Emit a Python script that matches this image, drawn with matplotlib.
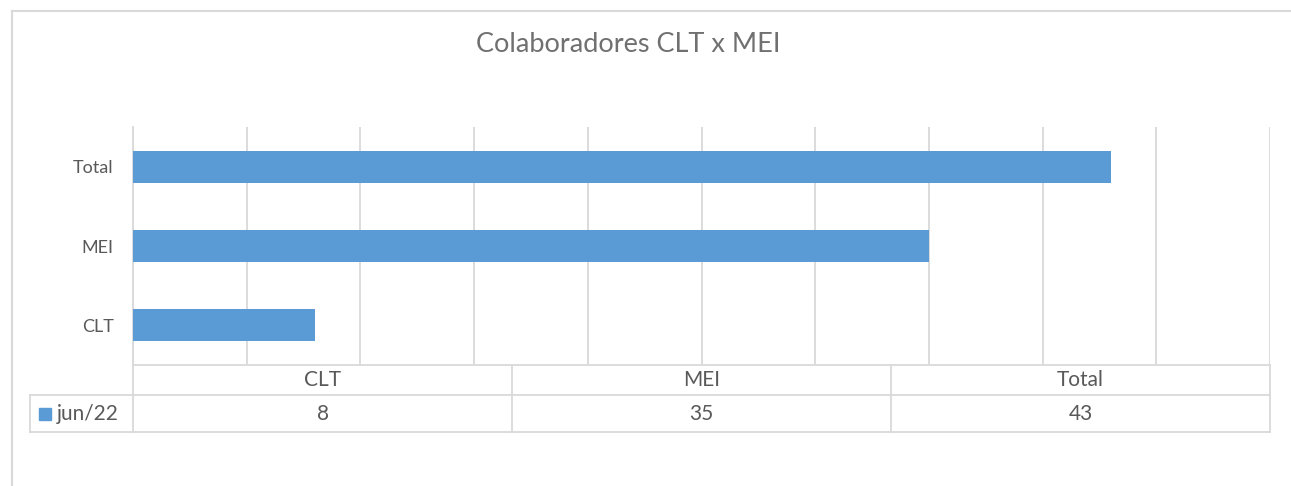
import matplotlib.pyplot as plt
from matplotlib.patches import Rectangle
from matplotlib.lines import Line2D

categories = ["CLT", "MEI", "Total"]
values = [8, 35, 43]
series_name = "jun/22"
title = "Colaboradores CLT x MEI"

W, H = 1291, 486
bar_color = "#5b9bd5"
grid_color = "#d9d9d9"
text_color = "#595959"

plt.rcParams["font.family"] = ["Lato", "DejaVu Sans"]

fig = plt.figure(figsize=(W / 100, H / 100), dpi=100)

def fx(px):
    return px / W

def fy(py):
    return 1 - py / H

# plot area in pixels
x0, x1 = 133, 1270
y_top, y_bot = 127, 365
ax = fig.add_axes([fx(x0), fy(y_bot), fx(x1 - x0), (y_bot - y_top) / H])

ax.barh(range(len(categories)), values, height=0.4, color=bar_color, zorder=3)
ax.set_xlim(0, 50)
ax.set_ylim(-0.5, len(categories) - 0.5)
ax.set_xticks(range(0, 51, 5))
ax.set_xticklabels([])
ax.set_yticks(range(len(categories)))
ax.set_yticklabels(categories, fontsize=13, color=text_color)
ax.tick_params(axis="both", length=0)
ax.tick_params(axis="y", pad=14)
ax.grid(axis="x", color=grid_color, linewidth=1.3, zorder=0)
for s in ["top", "right", "bottom"]:
    ax.spines[s].set_visible(False)
ax.spines["left"].set_color(grid_color)
ax.spines["left"].set_linewidth(1.3)

# outer chart frame (left and top only visible)
fig.add_artist(Line2D([fx(12), fx(12)], [fy(11), 0], color=grid_color, lw=1.5))
fig.add_artist(Line2D([fx(12), 1], [fy(11), fy(11)], color=grid_color, lw=1.5))

fig.text(0.487, fy(45), title, ha="center", va="center", fontsize=19.5,
         color="#707070")

# data table
r0, r1, r2 = 365, 395, 432
leg_x = 30
n = len(categories)
col_w = (x1 - x0) / n
tl = dict(color=grid_color, lw=1.3)
fig.add_artist(Line2D([fx(x0), fx(x1)], [fy(r0), fy(r0)], **tl))
fig.add_artist(Line2D([fx(leg_x), fx(x1)], [fy(r1), fy(r1)], **tl))
fig.add_artist(Line2D([fx(leg_x), fx(x1)], [fy(r2), fy(r2)], **tl))
fig.add_artist(Line2D([fx(leg_x), fx(leg_x)], [fy(r1), fy(r2)], **tl))
for i in range(n + 1):
    cx = x0 + i * col_w
    fig.add_artist(Line2D([fx(cx), fx(cx)], [fy(r0), fy(r2)], **tl))
for i, (c, v) in enumerate(zip(categories, values)):
    cx = x0 + (i + 0.5) * col_w
    fig.text(fx(cx), fy((r0 + r1) / 2), c, ha="center", va="center",
             fontsize=15, color=text_color)
    fig.text(fx(cx), fy((r1 + r2) / 2), str(v), ha="center", va="center",
             fontsize=15, color=text_color)

fig.add_artist(Rectangle((fx(39), fy(420)), fx(12), 12 / H, color=bar_color))
fig.text(fx(57), fy((r1 + r2) / 2), series_name, ha="left", va="center",
         fontsize=15, color=text_color)

fig.savefig("out.png", dpi=100)
